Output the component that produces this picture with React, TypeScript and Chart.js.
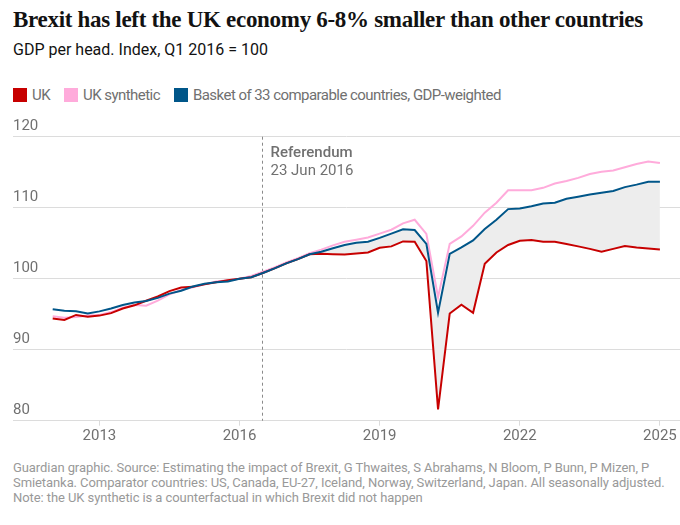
import React, { useEffect, useRef } from "react";
import Chart from "chart.js/auto";

// quarterly observations, Q1 2012 .. Q1 2025
const quarters: string[] = [
  "2012 Q1", "2012 Q2", "2012 Q3", "2012 Q4",
  "2013 Q1", "2013 Q2", "2013 Q3", "2013 Q4",
  "2014 Q1", "2014 Q2", "2014 Q3", "2014 Q4",
  "2015 Q1", "2015 Q2", "2015 Q3", "2015 Q4",
  "2016 Q1", "2016 Q2", "2016 Q3", "2016 Q4",
  "2017 Q1", "2017 Q2", "2017 Q3", "2017 Q4",
  "2018 Q1", "2018 Q2", "2018 Q3", "2018 Q4",
  "2019 Q1", "2019 Q2", "2019 Q3", "2019 Q4",
  "2020 Q1", "2020 Q2", "2020 Q3", "2020 Q4",
  "2021 Q1", "2021 Q2", "2021 Q3", "2021 Q4",
  "2022 Q1", "2022 Q2", "2022 Q3", "2022 Q4",
  "2023 Q1", "2023 Q2", "2023 Q3", "2023 Q4",
  "2024 Q1", "2024 Q2", "2024 Q3", "2024 Q4",
  "2025 Q1",
];

const ukValues: number[] = [
  94.4, 94.2, 94.9, 94.65, 94.8, 95.15, 95.8, 96.25,
  96.9, 97.5, 98.25, 98.75, 98.85, 99.2, 99.5, 99.8,
  100.0, 100.2, 100.8, 101.45, 102.15, 102.75, 103.45, 103.5,
  103.45, 103.4, 103.55, 103.7, 104.35, 104.55, 105.25, 105.2,
  102.5, 81.6, 95.1, 96.35, 95.2, 102.1, 103.7, 104.75,
  105.35, 105.45, 105.2, 105.2, 104.9, 104.55, 104.2, 103.8,
  104.2, 104.6, 104.4, 104.25, 104.1,
];

const synthValues: number[] = [
  94.7, 94.5, 94.6, 94.8, 94.9, 95.3, 95.9, 96.3,
  96.2, 96.9, 97.8, 98.4, 98.8, 99.2, 99.6, 99.8,
  100.0, 100.4, 101.0, 101.6, 102.3, 102.9, 103.6, 104.1,
  104.7, 105.2, 105.5, 105.8, 106.35, 106.9, 107.8, 108.3,
  106.3, 97.4, 104.9, 105.95, 107.45, 109.3, 110.7, 112.45,
  112.45, 112.45, 112.8, 113.4, 113.75, 114.2, 114.75, 115.05,
  115.25, 115.7, 116.15, 116.5, 116.3,
];

const basketValues: number[] = [
  95.7, 95.5, 95.4, 95.1, 95.4, 95.8, 96.3, 96.65,
  96.85, 97.3, 97.9, 98.3, 98.9, 99.3, 99.5, 99.6,
  100.0, 100.2, 100.8, 101.45, 102.15, 102.75, 103.45, 103.8,
  104.3, 104.75, 105.05, 105.2, 105.75, 106.35, 106.95, 106.85,
  104.9, 95.2, 103.5, 104.4, 105.4, 107.0, 108.3, 109.8,
  109.9, 110.2, 110.6, 110.7, 111.25, 111.55, 111.85, 112.1,
  112.35, 112.9, 113.25, 113.65, 113.65,
];

const xTickYears: number[] = [2013, 2016, 2019, 2022, 2025];
const yTicks: number[] = [80, 90, 100, 110, 120];

const referendumDate = 2016 + 174 / 366; // 23 Jun 2016
const gapStart = "2016 Q1";

const RED = "#c70000";
const PINK = "#ffabdb";
const BLUE = "#005689";
const GREY_TEXT = "#707070";
const SANS = "Roboto, 'Noto Sans', sans-serif";

const toYear = (q: string) => {
  const [y, qq] = q.split(" Q");
  return Number(y) + (Number(qq) - 1) / 4;
};

const toPoints = (vals: number[]) =>
  quarters.map((q, i) => ({ x: toYear(q), y: vals[i] }));

const referendumPlugin = {
  id: "referendum",
  beforeDatasetsDraw(chart: any) {
    const { ctx, chartArea, scales } = chart;
    const x = Math.round(scales.x.getPixelForValue(referendumDate)) + 0.5;
    ctx.save();
    ctx.strokeStyle = "#8a8a8a";
    ctx.lineWidth = 1;
    ctx.setLineDash([3, 3]);
    ctx.beginPath();
    ctx.moveTo(x, chartArea.top);
    ctx.lineTo(x, chartArea.bottom);
    ctx.stroke();
    ctx.setLineDash([]);
    ctx.fillStyle = GREY_TEXT;
    ctx.textBaseline = "middle";
    ctx.font = `500 15px ${SANS}`;
    ctx.fillText("Referendum", x + 8, chartArea.top + 17);
    ctx.font = `15px ${SANS}`;
    ctx.fillText("23 Jun 2016", x + 8, chartArea.top + 35);
    ctx.restore();
  },
};

const BrexitChart = () => {
  const canvasRef = useRef<HTMLCanvasElement>(null);

  useEffect(() => {
    if (!canvasRef.current) return;
    const ctx = canvasRef.current.getContext("2d");
    if (!ctx) return;

    const gapFrom = quarters.indexOf(gapStart);
    const chart = new Chart(ctx, {
      type: "line",
      data: {
        datasets: [
          {
            label: "Basket of 33 comparable countries, GDP-weighted",
            data: toPoints(basketValues),
            borderColor: BLUE,
            borderWidth: 2,
            pointRadius: 0,
            fill: false,
            order: 0,
          },
          {
            // grey gap between UK and the basket after the referendum
            label: "gap",
            data: toPoints(ukValues).slice(gapFrom),
            borderWidth: 0,
            borderColor: "rgba(0,0,0,0)",
            backgroundColor: "#ededed",
            pointRadius: 0,
            fill: "-1",
            order: 5,
          },
          {
            label: "UK",
            data: toPoints(ukValues),
            borderColor: RED,
            borderWidth: 2,
            pointRadius: 0,
            fill: false,
            order: 1,
          },
          {
            label: "UK synthetic",
            data: toPoints(synthValues),
            borderColor: PINK,
            borderWidth: 2,
            pointRadius: 0,
            fill: false,
            order: 2,
          },
        ],
      },
      options: {
        animation: false,
        responsive: true,
        maintainAspectRatio: false,
        layout: { padding: { left: 13, right: 0, top: 31.7, bottom: 2.3 } },
        plugins: {
          legend: { display: false },
          tooltip: { enabled: false },
        },
        scales: {
          x: {
            type: "linear",
            min: 2011.15,
            max: 2025.43,
            afterBuildTicks: (scale: any) => {
              scale.ticks = xTickYears.map((v) => ({ value: v }));
            },
            grid: {
              drawOnChartArea: false,
              drawTicks: true,
              tickLength: 5,
              color: "#dcdcdc",
            },
            border: { color: "#dcdcdc", width: 1 },
            ticks: {
              color: GREY_TEXT,
              font: { family: SANS, size: 15 },
              padding: 2,
              maxRotation: 0,
              callback: (v: any) => String(v),
            },
          },
          y: {
            min: 80,
            max: 120,
            afterBuildTicks: (scale: any) => {
              scale.ticks = yTicks.map((v) => ({ value: v }));
            },
            border: { display: false },
            grid: { color: "#dcdcdc", lineWidth: 1, drawTicks: false },
            ticks: {
              mirror: true,
              padding: 0,
              labelOffset: -10,
              color: GREY_TEXT,
              font: { family: SANS, size: 15 },
            },
          },
        },
      },
      plugins: [referendumPlugin],
    });

    return () => chart.destroy();
  }, []);

  return <canvas ref={canvasRef} />;
};

const legendItems = [
  { label: "UK", color: RED },
  { label: "UK synthetic", color: PINK },
  { label: "Basket of 33 comparable countries, GDP-weighted", color: BLUE },
];

export default function App() {
  return (
    <div style={{ width: 680, paddingTop: 8, color: "#121212" }}>
      <style>{"body{margin:0}"}</style>
      <div style={{ paddingLeft: 13 }}>
        <div
          style={{
            fontFamily: "'Liberation Serif', serif",
            fontWeight: 700,
            fontSize: 23,
            lineHeight: "24px",
            height: 24,
            letterSpacing: -0.3,
            whiteSpace: "nowrap",
          }}
        >
          Brexit has left the UK economy 6-8% smaller than other countries
        </div>
        <div
          style={{
            fontFamily: SANS,
            fontSize: 16,
            lineHeight: "20px",
            marginTop: 8,
            height: 20,
          }}
        >
          GDP per head. Index, Q1 2016 = 100
        </div>
        <div
          style={{
            display: "flex",
            alignItems: "center",
            marginTop: 25,
            height: 20,
            fontFamily: SANS,
            fontSize: 15,
            letterSpacing: -0.55,
            color: GREY_TEXT,
          }}
        >
          {legendItems.map((it) => (
            <div
              key={it.label}
              style={{ display: "flex", alignItems: "center", marginRight: 14 }}
            >
              <span
                style={{
                  display: "inline-block",
                  width: 14,
                  height: 14,
                  background: it.color,
                  marginRight: 5,
                }}
              />
              {it.label}
            </div>
          ))}
        </div>
      </div>
      <div style={{ position: "relative", height: 345, width: 680 }}>
        <BrexitChart />
      </div>
      <div
        style={{
          paddingLeft: 13,
          fontFamily: SANS,
          fontSize: 13,
          lineHeight: "15px",
          letterSpacing: -0.08,
          color: "#999999",
          marginTop: 10,
          whiteSpace: "nowrap",
        }}
      >
        Guardian graphic. Source: Estimating the impact of Brexit, G Thwaites, S Abrahams, N Bloom, P Bunn, P Mizen, P
        <br />
        Smietanka. Comparator countries: US, Canada, EU-27, Iceland, Norway, Switzerland, Japan. All seasonally adjusted.
        <br />
        Note: the UK synthetic is a counterfactual in which Brexit did not happen
      </div>
    </div>
  );
}
